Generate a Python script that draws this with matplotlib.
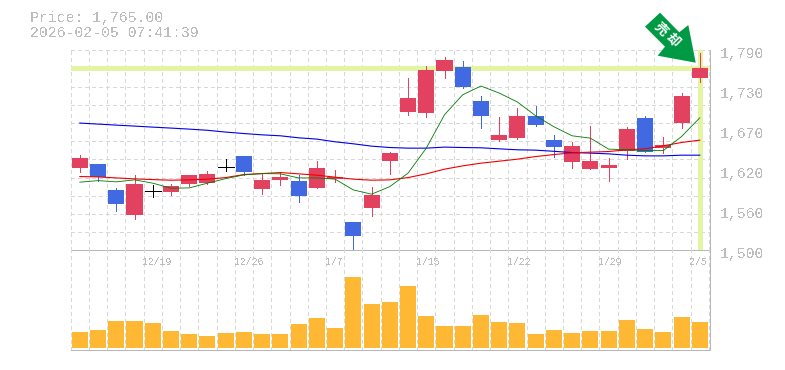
#!/usr/bin/env python
"""
Candlestick chart with moving averages and a volume panel below it.
"""

import matplotlib

matplotlib.use("Agg")
from matplotlib import pyplot as plt
from matplotlib.patches import Polygon
from matplotlib.transforms import ScaledTranslation

opens = [
    1619.6, 1625.4, 1587.6, 1551.3, 1585.7, 1584.7, 1596.4, 1597.8, 1620.6,
    1637.0, 1589.1, 1602.2, 1600.7, 1590.5, 1603.6, 1541.1, 1561.5, 1629.8,
    1701.0, 1699.5, 1760.5, 1766.4, 1716.9, 1660.3, 1663.2, 1695.2, 1660.3,
    1628.3, 1618.1, 1619.6, 1644.3, 1692.2, 1648.7, 1685.0, 1750.4,
]
highs = [
    1638.5, 1625.4, 1590.5, 1609.4, 1594.5, 1596.4, 1609.4, 1615.2, 1632.7,
    1637.0, 1612.3, 1613.8, 1609.4, 1629.8, 1616.7, 1541.1, 1592.0, 1642.8,
    1750.4, 1767.8, 1780.9, 1775.0, 1724.2, 1693.7, 1706.8, 1709.7, 1667.5,
    1657.4, 1680.6, 1634.1, 1679.2, 1695.2, 1664.6, 1728.6, 1786.7,
]
lows = [
    1613.8, 1600.7, 1557.1, 1545.5, 1577.9, 1580.4, 1593.4, 1596.4, 1615.2,
    1609.4, 1581.8, 1594.9, 1570.2, 1590.5, 1599.3, 1501.9, 1549.9, 1610.9,
    1696.6, 1693.7, 1750.4, 1735.8, 1677.7, 1658.8, 1661.7, 1680.6, 1635.6,
    1619.6, 1618.1, 1600.7, 1632.7, 1642.8, 1641.4, 1677.7, 1744.6,
]
closes = [
    1634.1, 1606.5, 1567.3, 1596.4, 1585.7, 1593.4, 1609.4, 1610.9, 1620.6,
    1613.8, 1602.2, 1606.5, 1578.9, 1619.6, 1606.5, 1520.8, 1580.4, 1641.4,
    1721.3, 1762.0, 1776.5, 1737.3, 1695.2, 1667.5, 1695.2, 1682.1, 1650.1,
    1651.6, 1629.8, 1624.0, 1676.3, 1642.8, 1653.0, 1724.2, 1765.0,
]
ma_short = [
    1598.8, 1601.1, 1599.3, 1602.2, 1597.4, 1590.1, 1590.5, 1597.4, 1604.0,
    1609.4, 1611.3, 1610.9, 1605.0, 1605.0, 1603.2, 1587.6, 1581.4, 1592.4,
    1611.9, 1648.2, 1696.6, 1725.7, 1738.3, 1728.1, 1715.1, 1695.2, 1679.2,
    1666.1, 1662.7, 1646.8, 1645.8, 1644.7, 1644.7, 1665.1, 1692.2,
]
ma_mid = [
    1607.0, 1606.5, 1605.0, 1603.6, 1602.6, 1601.7, 1602.2, 1603.2, 1605.5,
    1609.9, 1611.3, 1612.8, 1610.9, 1609.0, 1606.1, 1603.2, 1601.7, 1602.2,
    1605.5, 1610.9, 1617.7, 1622.5, 1626.4, 1629.3, 1632.2, 1636.0, 1638.9,
    1641.4, 1642.4, 1643.3, 1645.8, 1647.2, 1651.6, 1656.4, 1659.8,
]
ma_long = [
    1684.6, 1683.1, 1681.6, 1680.2, 1678.7, 1677.3, 1675.8, 1674.1, 1671.5,
    1669.4, 1667.5, 1666.1, 1663.2, 1661.3, 1657.4, 1654.5, 1651.1, 1649.1,
    1648.2, 1648.2, 1649.7, 1649.1, 1648.7, 1647.2, 1645.8, 1645.3, 1643.6,
    1641.8, 1641.0, 1639.9, 1638.0, 1637.0, 1637.0, 1638.0, 1638.0,
]
volumes = [
    16, 18, 27, 27, 25, 17, 14, 12, 15, 16, 14, 14, 24, 30, 20, 71, 44, 46,
    62, 32, 22, 22, 33, 26, 25, 14, 18, 15, 17, 17, 28, 19, 16, 31, 26,
]
date_idx = [4, 9, 14, 19, 24, 29, 34]
date_labels = ["12/19", "12/26", "1/7", "1/15", "1/22", "1/29", "2/5"]
price_ticks = [1500, 1558, 1616, 1674, 1732, 1790]
price_labels = ["1,500", "1,560", "1,620", "1,670", "1,730", "1,790"]
last_price = 1765.0

RED = "#e34160"
BLUE = "#4169e1"
LIME = "#e3f5a5"
GRID = "#d8d8d8"
AXIS = "#b8b8b8"
TEXT = "#bcbcbc"
W, H = 785, 370
MONO = "Liberation Mono"
PX = 0.72  # one pixel as a line width at dpi 100


def px_axes(fig, left, top, right, bottom):
    ax = fig.add_axes([left / W, 1 - bottom / H, (right - left) / W, (bottom - top) / H])
    ax.patch.set_visible(False)
    return ax


def px_fig(x, y):
    return x / W, 1 - y / H


def style_axes(ax, count):
    ax.set_xlim(-0.5, count - 0.44)
    for name in ("left", "top"):
        ax.spines[name].set_visible(False)
    for name in ("right", "bottom"):
        ax.spines[name].set_color(AXIS)
        ax.spines[name].set_linewidth(PX)
    ax.set_axisbelow(True)
    for k in range(count + 1):
        ax.axvline(k - 0.5, color=GRID, lw=PX, ls=(0, (3, 3)), zorder=0)
    ax.set_yticks([])
    ax.set_xticks([])


def main():
    plt.rcParams["text.antialiased"] = False
    plt.rcParams["lines.antialiased"] = False
    plt.rcParams["patch.antialiased"] = False

    count = len(closes)
    xs = list(range(count))
    fig = plt.figure(figsize=(W / 100, H / 100), dpi=100)

    ax = px_axes(fig, 70.7, 50.4, 710, 250.3)
    style_axes(ax, count)
    ax.set_ylim(1500, 1790)
    for k in range(12):
        ax.axhline(1500 + k * 290 / 11, color=GRID, lw=PX, ls=(0, (3, 3)), zorder=0)

    ax.axhline(last_price, color=LIME, lw=2.3, zorder=1)
    ax.axvline(xs[-1], color=LIME, lw=2.3, zorder=1)

    for i in xs:
        color = RED if closes[i] > opens[i] else BLUE
        if closes[i] == opens[i]:
            color = "black"
        ax.plot([i, i], [lows[i], highs[i]], color=color, lw=PX, zorder=2, solid_capstyle="butt")
        if closes[i] == opens[i]:
            ax.plot([i - 0.44, i + 0.44], [opens[i], opens[i]], color=color, lw=PX, zorder=2,
                    solid_capstyle="butt")
        else:
            ax.bar(i, abs(closes[i] - opens[i]), bottom=min(opens[i], closes[i]), width=0.88,
                   color=color, linewidth=0, zorder=2)

    ax.plot(xs, ma_long, color="#0000e6", lw=0.8, antialiased=True, zorder=3)
    ax.plot(xs, ma_mid, color="#f00000", lw=0.8, antialiased=True, zorder=3)
    ax.plot(xs, ma_short, color="#007a00", lw=0.6, antialiased=True, zorder=3)

    ax.yaxis.tick_right()
    ax.set_yticks(price_ticks)
    ax.set_yticklabels(price_labels, family=MONO, fontsize=10.7, color=TEXT)
    ax.tick_params(axis="y", length=0, pad=6.8)
    shift = ScaledTranslation(0, -1.7 / 100, fig.dpi_scale_trans)
    for label in ax.get_yticklabels():
        label.set_transform(label.get_transform() + shift)

    vol = px_axes(fig, 70.7, 250.3, 710, 350)
    style_axes(vol, count)
    vol.set_ylim(-2, 97.7)
    vol.bar(xs, volumes, width=0.88, color="#ffb833", linewidth=0, zorder=2)
    vol.set_xticks([i - 0.55 for i in date_idx])
    vol.set_xticklabels(date_labels, family=MONO, fontsize=7.1, color=TEXT, ha="left")
    vol.xaxis.tick_top()
    vol.tick_params(axis="x", length=0, direction="in", pad=-12)

    fig.text(*px_fig(30, 18), "Price: 1,765.00", family=MONO, fontsize=10.7, color=TEXT, va="center")
    fig.text(*px_fig(30, 33), "2026-02-05 07:41:39", family=MONO, fontsize=10.7, color=TEXT, va="center")

    # down arrow marker, placed in pixels like the rest of the frame
    arrow_px = [(660, 12.7), (645, 26.7), (665, 46.7), (657.7, 55.7), (695.7, 62.7), (688.3, 25), (679.3, 32.3)]
    fig.add_artist(Polygon([px_fig(x, y) for x, y in arrow_px], closed=True, facecolor="#009944",
                           edgecolor="none", transform=fig.transFigure, zorder=5, antialiased=True))
    for (gx, gy), glyph in zip([(660.7, 29), (672.7, 40)], "売却"):
        fig.text(*px_fig(gx, gy), glyph, family=["Noto Sans CJK JP", "DejaVu Sans"], fontsize=9.5, weight="bold",
                 color="white", rotation=-45, ha="center", va="center", rotation_mode="anchor", zorder=6,
                 antialiased=True)

    fig.savefig("out.png", dpi=100)


if __name__ == "__main__":
    main()
